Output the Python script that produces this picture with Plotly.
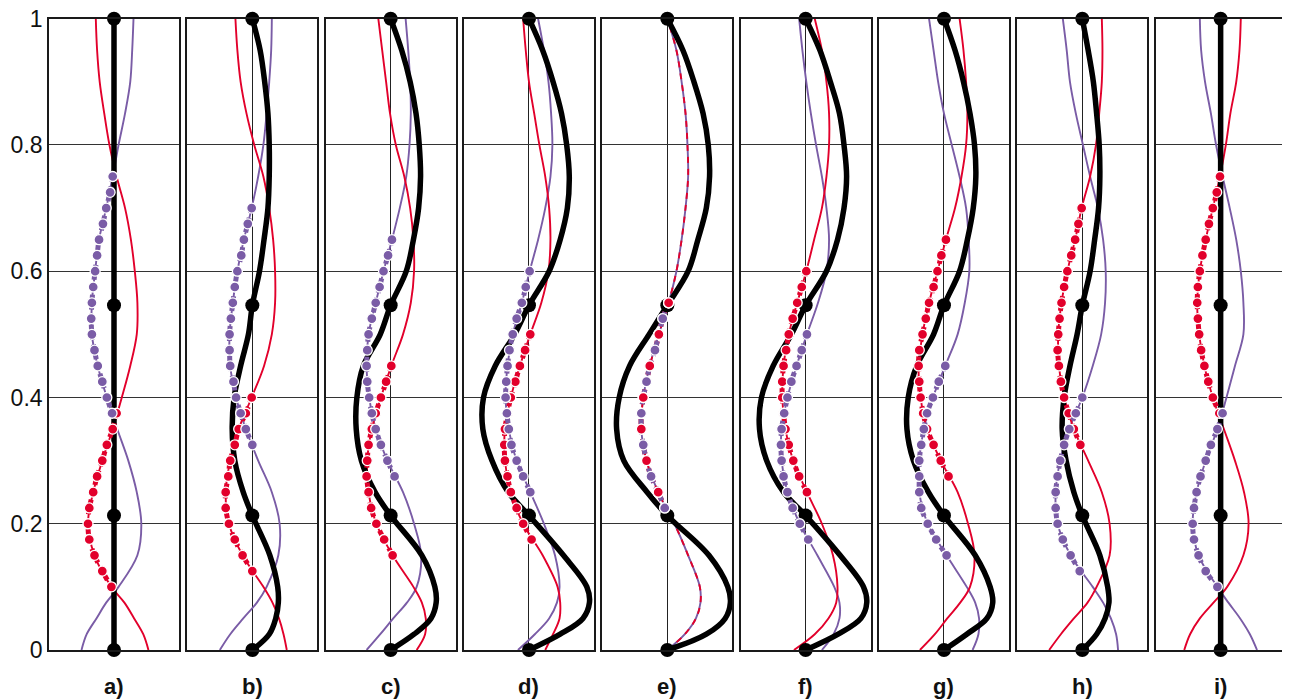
import plotly.graph_objects as go

# ---------------- data ----------------
PANEL_LABELS = ["a)", "b)", "c)", "d)", "e)", "f)", "g)", "h)", "i)"]
Y_TICKS = [0, 0.2, 0.4, 0.6, 0.8, 1]
Y_TICK_TEXT = ["0", "0.2", "0.4", "0.6", "0.8", "1"]

# heights at which the thin red / purple curves were read
Y_GRID = [0, 0.025, 0.05, 0.075, 0.1, 0.15, 0.2, 0.25, 0.3, 0.35, 0.4, 0.45,
          0.5, 0.55, 0.6, 0.65, 0.7, 0.75, 0.8, 0.85, 0.9, 0.95, 1.0]
# heights at which the thick black curve was read (includes its nodes)
BLACK_Y = [0, 0.025, 0.05, 0.075, 0.1, 0.15, 0.213, 0.25, 0.3, 0.35, 0.4, 0.45,
           0.5, 0.546, 0.6, 0.65, 0.7, 0.75, 0.8, 0.85, 0.9, 0.95, 1.0]
NODE_Y = [0, 0.213, 0.546, 1.0]
NODE_X = [0, 0, 0, 0]

BLACK_A = [0, 0, 0, 0, 0, 0, 0, 0, 0, 0, 0, 0, 0, 0, 0, 0, 0, 0, 0, 0, 0, 0, 0]
BLACK_B = [0, 0.26, 0.36, 0.40, 0.39, 0.27, 0, -0.14, -0.27, -0.31, -0.28, -0.18,
           -0.06, 0, 0.11, 0.18, 0.24, 0.26, 0.26, 0.24, 0.19, 0.12, 0]
BLACK_C = [0, 0.36, 0.62, 0.70, 0.68, 0.48, 0, -0.24, -0.45, -0.53, -0.52, -0.42,
           -0.16, 0, 0.24, 0.35, 0.43, 0.46, 0.44, 0.39, 0.30, 0.17, 0]
BLACK_D = [0, 0.48, 0.83, 0.93, 0.89, 0.53, 0, -0.32, -0.57, -0.71, -0.70, -0.52,
           -0.22, 0, 0.31, 0.48, 0.59, 0.62, 0.58, 0.50, 0.37, 0.21, 0]
BLACK_E = [0, 0.60, 0.89, 0.97, 0.93, 0.64, 0, -0.31, -0.67, -0.78, -0.74, -0.58,
           -0.28, 0, 0.32, 0.47, 0.60, 0.65, 0.63, 0.55, 0.41, 0.24, 0]
BLACK_F = [0, 0.50, 0.85, 0.94, 0.89, 0.53, 0, -0.34, -0.60, -0.71, -0.68, -0.50,
           -0.22, 0, 0.32, 0.49, 0.59, 0.63, 0.59, 0.52, 0.38, 0.22, 0]
BLACK_G = [0, 0.35, 0.66, 0.75, 0.71, 0.48, 0, -0.24, -0.47, -0.57, -0.55, -0.42,
           -0.16, 0, 0.24, 0.36, 0.45, 0.49, 0.47, 0.40, 0.30, 0.17, 0]
BLACK_H = [0, 0.22, 0.35, 0.41, 0.39, 0.27, 0, -0.13, -0.25, -0.31, -0.28, -0.19,
           -0.08, 0, 0.12, 0.19, 0.25, 0.27, 0.26, 0.22, 0.17, 0.09, 0]
BLACK_I = [0, 0, 0, 0, 0, 0, 0, 0, 0, 0, 0, 0, 0, 0, 0, 0, 0, 0, 0, 0, 0, 0, 0]

RED_A = [0.53, 0.45, 0.31, 0.16, -0.04, -0.30, -0.40, -0.32, -0.18, -0.02, 0.12, 0.25,
         0.35, 0.36, 0.32, 0.26, 0.17, 0.04, -0.07, -0.15, -0.22, -0.26, -0.28]
RED_B = [0.53, 0.48, 0.41, 0.31, 0.17, -0.15, -0.36, -0.41, -0.34, -0.21, -0.01, 0.18,
         0.30, 0.35, 0.35, 0.32, 0.26, 0.17, 0.03, -0.09, -0.18, -0.23, -0.26]
RED_C = [0.40, 0.53, 0.54, 0.48, 0.35, 0.03, -0.22, -0.34, -0.36, -0.29, -0.15, 0.01,
         0.19, 0.31, 0.36, 0.35, 0.30, 0.21, 0.08, -0.01, -0.07, -0.13, -0.19]
RED_D = [0.25, 0.37, 0.47, 0.48, 0.44, 0.21, -0.09, -0.28, -0.37, -0.37, -0.28, -0.14,
         0.02, 0.19, 0.30, 0.33, 0.31, 0.25, 0.16, 0.08, 0.00, -0.05, -0.09]
RED_E = [0, 0.27, 0.44, 0.51, 0.50, 0.32, 0.11, -0.14, -0.32, -0.40, -0.37, -0.27,
         -0.13, 0.02, 0.14, 0.22, 0.28, 0.32, 0.31, 0.28, 0.22, 0.14, 0]
RED_F = [-0.18, 0.14, 0.35, 0.47, 0.49, 0.42, 0.25, 0.02, -0.19, -0.31, -0.36, -0.34,
         -0.26, -0.13, 0.01, 0.13, 0.25, 0.32, 0.36, 0.36, 0.32, 0.25, 0.14]
RED_G = [-0.37, -0.14, 0.05, 0.25, 0.40, 0.47, 0.37, 0.21, -0.05, -0.26, -0.36, -0.39,
         -0.33, -0.23, -0.10, 0.03, 0.17, 0.27, 0.34, 0.36, 0.34, 0.30, 0.24]
RED_H = [-0.51, -0.33, -0.13, 0.08, 0.22, 0.42, 0.42, 0.30, 0.09, -0.13, -0.28, -0.36,
         -0.37, -0.32, -0.23, -0.11, -0.01, 0.12, 0.21, 0.26, 0.30, 0.31, 0.30]
RED_I = [-0.56, -0.47, -0.32, -0.11, 0.10, 0.35, 0.43, 0.36, 0.22, 0.05, -0.12, -0.25,
         -0.33, -0.36, -0.32, -0.23, -0.12, -0.01, 0.08, 0.15, 0.24, 0.29, 0.31]

PURPLE_A = [-0.50, -0.42, -0.27, -0.12, 0.07, 0.36, 0.42, 0.35, 0.22, 0.05, -0.11, -0.25,
            -0.34, -0.34, -0.29, -0.23, -0.12, -0.02, 0.07, 0.17, 0.25, 0.28, 0.30]
PURPLE_B = [-0.50, -0.34, -0.14, 0.07, 0.22, 0.40, 0.42, 0.30, 0.09, -0.10, -0.25, -0.34,
            -0.35, -0.30, -0.23, -0.13, -0.01, 0.09, 0.17, 0.22, 0.26, 0.29, 0.30]
PURPLE_C = [-0.37, -0.16, 0.04, 0.25, 0.40, 0.47, 0.36, 0.19, -0.05, -0.23, -0.33, -0.37,
            -0.34, -0.23, -0.11, 0.02, 0.14, 0.24, 0.29, 0.31, 0.30, 0.27, 0.23]
PURPLE_D = [-0.17, 0.09, 0.31, 0.43, 0.47, 0.40, 0.23, 0.02, -0.19, -0.31, -0.36, -0.33,
            -0.25, -0.11, 0.01, 0.14, 0.25, 0.33, 0.36, 0.34, 0.30, 0.23, 0.14]
PURPLE_E = [0, 0.27, 0.44, 0.51, 0.50, 0.32, 0.11, -0.14, -0.32, -0.40, -0.37, -0.27,
            -0.13, 0.02, 0.14, 0.22, 0.28, 0.32, 0.31, 0.28, 0.22, 0.14, 0]
PURPLE_F = [0.25, 0.43, 0.52, 0.52, 0.44, 0.18, -0.09, -0.28, -0.37, -0.37, -0.28, -0.14,
            0.02, 0.19, 0.32, 0.36, 0.32, 0.25, 0.16, 0.08, 0.01, -0.05, -0.10]
PURPLE_G = [0.44, 0.53, 0.54, 0.48, 0.35, 0.04, -0.25, -0.38, -0.38, -0.31, -0.17, 0.02,
            0.21, 0.32, 0.39, 0.38, 0.34, 0.24, 0.12, 0.00, -0.09, -0.16, -0.23]
PURPLE_H = [0.55, 0.52, 0.44, 0.32, 0.16, -0.18, -0.38, -0.41, -0.34, -0.20, 0.00, 0.16,
            0.29, 0.35, 0.36, 0.32, 0.24, 0.12, 0.01, -0.10, -0.19, -0.24, -0.30]
PURPLE_I = [0.56, 0.45, 0.30, 0.12, -0.05, -0.34, -0.43, -0.37, -0.23, -0.05, 0.09, 0.22,
            0.35, 0.35, 0.31, 0.24, 0.14, 0.03, -0.07, -0.15, -0.24, -0.30, -0.32]

# dotted (marked) stretches: top height, then marker x positions going down
DOT_STEP = 0.025
RED_DOT_TOP = [0.375, 0.4, 0.45, 0.5, 0.55, 0.6, 0.65, 0.7, 0.75]
PURPLE_DOT_TOP = [0.75, 0.7, 0.65, 0.6, 0.55, 0.5, 0.45, 0.4, 0.375]

RED_DOTS_A = [0.04, -0.02, -0.11, -0.18, -0.26, -0.32, -0.38, -0.40, -0.38, -0.30, -0.18, -0.04]
RED_DOTS_B = [-0.01, -0.10, -0.21, -0.27, -0.34, -0.37, -0.41, -0.41, -0.36, -0.27, -0.15, 0.00]
RED_DOTS_C = [0.01, -0.07, -0.15, -0.23, -0.29, -0.34, -0.36, -0.37, -0.34, -0.30, -0.22, -0.10, 0.03]
RED_DOTS_D = [0.02, -0.06, -0.14, -0.21, -0.28, -0.33, -0.37, -0.38, -0.37, -0.33, -0.28, -0.19,
              -0.09, 0.04]
RED_DOTS_E = [0.02, -0.07, -0.13, -0.19, -0.27, -0.32, -0.37, -0.40, -0.40, -0.37, -0.32, -0.25,
              -0.14, -0.04]
RED_DOTS_F = [0.01, -0.06, -0.13, -0.20, -0.26, -0.30, -0.34, -0.36, -0.36, -0.34, -0.31, -0.26,
              -0.19, -0.10, 0.02]
RED_DOTS_G = [0.03, -0.04, -0.10, -0.16, -0.23, -0.28, -0.33, -0.38, -0.39, -0.38, -0.36, -0.32,
              -0.26, -0.16, -0.05, 0.07]
RED_DOTS_H = [-0.01, -0.06, -0.11, -0.17, -0.23, -0.28, -0.32, -0.35, -0.37, -0.38, -0.36, -0.33,
              -0.28, -0.21, -0.13, -0.03]
RED_DOTS_I = [-0.01, -0.06, -0.12, -0.18, -0.23, -0.28, -0.32, -0.35, -0.36, -0.35, -0.33, -0.30,
              -0.25, -0.19, -0.12, -0.02]

PURPLE_DOTS_A = [-0.02, -0.06, -0.12, -0.17, -0.23, -0.26, -0.29, -0.32, -0.34, -0.35, -0.34, -0.30,
                 -0.25, -0.18, -0.11, -0.03]
PURPLE_DOTS_B = [-0.01, -0.07, -0.13, -0.17, -0.23, -0.27, -0.30, -0.33, -0.35, -0.35, -0.34, -0.29,
                 -0.25, -0.18, -0.10, 0.00]
PURPLE_DOTS_C = [0.02, -0.04, -0.11, -0.17, -0.23, -0.29, -0.34, -0.36, -0.37, -0.36, -0.33, -0.29,
                 -0.23, -0.15, -0.05, 0.06]
PURPLE_DOTS_D = [0.01, -0.05, -0.11, -0.19, -0.25, -0.30, -0.33, -0.35, -0.36, -0.34, -0.31, -0.27,
                 -0.19, -0.09, 0.02]
PURPLE_DOTS_E = [0.02, -0.07, -0.13, -0.19, -0.27, -0.32, -0.37, -0.40, -0.40, -0.37, -0.32, -0.25,
                 -0.14, -0.04]
PURPLE_DOTS_F = [0.02, -0.06, -0.14, -0.22, -0.28, -0.33, -0.37, -0.38, -0.37, -0.34, -0.28, -0.20,
                 -0.09, 0.04]
PURPLE_DOTS_G = [0.02, -0.08, -0.17, -0.26, -0.31, -0.35, -0.38, -0.38, -0.38, -0.35, -0.25, -0.12, 0.04]
PURPLE_DOTS_H = [0.00, -0.10, -0.20, -0.28, -0.34, -0.38, -0.41, -0.41, -0.38, -0.30, -0.18, -0.04]
PURPLE_DOTS_I = [0.03, -0.05, -0.15, -0.23, -0.31, -0.37, -0.41, -0.43, -0.41, -0.34, -0.23, -0.05]

BLACK = [BLACK_A, BLACK_B, BLACK_C, BLACK_D, BLACK_E, BLACK_F, BLACK_G, BLACK_H, BLACK_I]
RED = [RED_A, RED_B, RED_C, RED_D, RED_E, RED_F, RED_G, RED_H, RED_I]
PURPLE = [PURPLE_A, PURPLE_B, PURPLE_C, PURPLE_D, PURPLE_E, PURPLE_F, PURPLE_G, PURPLE_H, PURPLE_I]
RED_DOTS = [RED_DOTS_A, RED_DOTS_B, RED_DOTS_C, RED_DOTS_D, RED_DOTS_E, RED_DOTS_F, RED_DOTS_G,
            RED_DOTS_H, RED_DOTS_I]
PURPLE_DOTS = [PURPLE_DOTS_A, PURPLE_DOTS_B, PURPLE_DOTS_C, PURPLE_DOTS_D, PURPLE_DOTS_E,
               PURPLE_DOTS_F, PURPLE_DOTS_G, PURPLE_DOTS_H, PURPLE_DOTS_I]

# ---------------- styling ----------------
RED_C_ = "#E2002B"
PURPLE_C_ = "#7A5CA6"
W, H = 1290, 699
PAGE_OFF = 8          # the page body margin shifts the figure by this many pixels
PANEL_W = 130
PANEL_LEFT0 = 49 - PAGE_OFF
PANEL_PITCH = 138.33
PLOT_TOP = 18.7 - PAGE_OFF
PLOT_BOTTOM = 650 - PAGE_OFF
LABEL_Y = 686 - PAGE_OFF
Y_DOM = [(H - PLOT_BOTTOM) / H, (H - PLOT_TOP) / H]
FONT = "Liberation Sans, Arial, Helvetica, sans-serif"


def dot_y(top, n):
    return [round(top - DOT_STEP * k, 4) for k in range(n)]


fig = go.Figure()
layout = {}
for i in range(9):
    n = "" if i == 0 else str(i + 1)
    xr, yr = "x" + n, "y" + n
    left = PANEL_LEFT0 + PANEL_PITCH * i
    layout["xaxis" + n] = dict(
        domain=[left / W, (left + PANEL_W) / W], range=[-1, 1], anchor=yr,
        tickvals=[0], showticklabels=False, ticks="", showgrid=True, automargin=False,
        gridcolor="#222222", gridwidth=1, zeroline=False,
        showline=True, linecolor="#1a1a1a", linewidth=1.6, mirror=True, fixedrange=True)
    layout["yaxis" + n] = dict(
        domain=Y_DOM, range=[0, 1], anchor=xr, automargin=False,
        tickvals=Y_TICKS, ticktext=Y_TICK_TEXT, showticklabels=(i == 0), ticks="",
        ticklabeloverflow="allow",
        tickfont=dict(size=23, color="#111111", family=FONT),
        showgrid=True, gridcolor="#333333", gridwidth=1, zeroline=False,
        showline=True, linecolor="#1a1a1a", linewidth=1.6, mirror=True, fixedrange=True)

    common = dict(xaxis=xr, yaxis=yr, showlegend=False, hoverinfo="skip")
    spline = dict(shape="spline", smoothing=1.0)

    # thin curves
    fig.add_trace(go.Scatter(x=PURPLE[i], y=Y_GRID, mode="lines",
                             line=dict(color=PURPLE_C_, width=1.9, **spline), **common))
    fig.add_trace(go.Scatter(x=RED[i], y=Y_GRID, mode="lines",
                             line=dict(color=RED_C_, width=1.9,
                                       dash=("6px,6px" if i == 4 else "solid"), **spline),
                             **common))
    # thick black curve and its nodes
    fig.add_trace(go.Scatter(x=BLACK[i], y=BLACK_Y, mode="lines",
                             line=dict(color="black", width=5.5, **spline), **common))
    fig.add_trace(go.Scatter(x=NODE_X, y=NODE_Y, mode="markers", cliponaxis=False,
                             marker=dict(color="black", size=14), **common))

    # dotted stretches
    ry = dot_y(RED_DOT_TOP[i], len(RED_DOTS[i]))
    py = dot_y(PURPLE_DOT_TOP[i], len(PURPLE_DOTS[i]))
    fig.add_trace(go.Scatter(x=RED_DOTS[i], y=ry, mode="lines",
                             line=dict(color=RED_C_, width=5, dash="dot", **spline), **common))
    fig.add_trace(go.Scatter(x=RED_DOTS[i], y=ry, mode="markers", cliponaxis=False,
                             marker=dict(color=RED_C_, size=10, line=dict(color="white", width=1.3)),
                             **common))
    fig.add_trace(go.Scatter(x=PURPLE_DOTS[i], y=py, mode="lines",
                             line=dict(color=PURPLE_C_, width=5, dash="dot", **spline), **common))
    fig.add_trace(go.Scatter(x=PURPLE_DOTS[i], y=py, mode="markers", cliponaxis=False,
                             marker=dict(color=PURPLE_C_, size=10, line=dict(color="white", width=1.3)),
                             **common))
    if i == 4:
        # where the two coincide, the red marks alternate on top
        fig.add_trace(go.Scatter(x=RED_DOTS[i][::2], y=ry[::2], mode="markers", cliponaxis=False,
                                 marker=dict(color=RED_C_, size=10,
                                             line=dict(color="white", width=1.3)), **common))

annotations = []
for i, lab in enumerate(PANEL_LABELS):
    cx = (PANEL_LEFT0 + PANEL_PITCH * i + PANEL_W / 2) / W
    annotations.append(dict(text="<b>%s</b>" % lab, x=cx, y=(H - LABEL_Y) / H, xref="paper",
                            yref="paper", xanchor="center", yanchor="middle", showarrow=False,
                            font=dict(size=22, color="#111111", family=FONT)))

fig.update_layout(width=W, height=H, autosize=False, margin=dict(l=0, r=0, t=0, b=0, pad=0),
                  plot_bgcolor="white", paper_bgcolor="white", showlegend=False,
                  font=dict(family=FONT), annotations=annotations, **layout)

fig.write_html("out.html")
